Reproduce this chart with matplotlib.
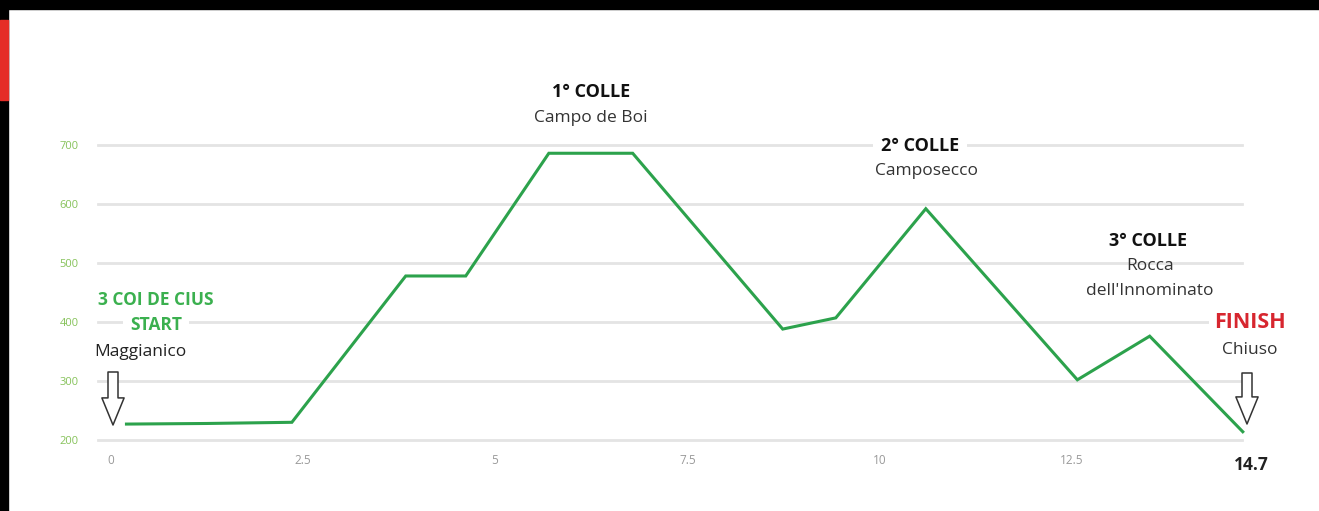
import matplotlib
matplotlib.use("Agg")
import matplotlib.pyplot as plt
from matplotlib.patches import Rectangle, FancyArrowPatch

# ---- data (km, elevation m) ----
dist_km = [0.21, 1.25, 2.36, 3.84, 4.62, 5.70, 6.79, 8.74, 9.43, 10.60, 12.57, 13.51, 14.72]
elev_m = [227, 228, 230, 478, 478, 686, 686, 388, 407, 592, 302, 376, 214]
x_ticks = [0, 2.5, 5, 7.5, 10, 12.5]
x_tick_labels = ["0", "2.5", "5", "7.5", "10", "12.5"]
y_ticks = [200, 300, 400, 500, 600, 700]
y_tick_labels = ["200", "300", "400", "500", "600", "700"]
end_km_label = "14.7"

W, H = 1319, 511
fig = plt.figure(figsize=(W / 100, H / 100), dpi=100)
fig.patch.set_facecolor("white")
plt.rcParams['font.family'] = ['Open Sans', 'DejaVu Sans']

# decorative frame (screenshot borders)
fig.patches.append(Rectangle((0, 1 - 9 / H), 1, 9 / H, transform=fig.transFigure, color="black", zorder=0))
fig.patches.append(Rectangle((0, 0), 8 / W, 1, transform=fig.transFigure, color="black", zorder=0))
fig.patches.append(Rectangle((0, 1 - 100 / H), 8 / W, 80 / H, transform=fig.transFigure, color="#e52d27", zorder=1))

ax = fig.add_axes([98 / W, 1 - 440 / H, (1242 - 98) / W, (440 - 145) / H])
ax.set_xlim(-0.16, 14.71)
ax.set_ylim(200, 700)
for s in ax.spines.values():
    s.set_visible(False)
ax.set_yticks(y_ticks)
ax.set_yticklabels(y_tick_labels)
ax.set_xticks(x_ticks)
ax.set_xticklabels(x_tick_labels)
ax.tick_params(axis="y", length=0, pad=14, labelsize=8, labelcolor="#86c25a")
ax.tick_params(axis="x", length=0, pad=10, labelsize=8.5, labelcolor="#9a9a9a")
ax.grid(axis="y", color="#e4e4e4", linewidth=2)
for gl in ax.get_ygridlines():
    gl.set_clip_on(False)
ax.set_axisbelow(True)

ax.plot(dist_km, elev_m, color="#2ca24c", linewidth=2.2, solid_joinstyle="miter", clip_on=False, zorder=3)

box = dict(facecolor="white", edgecolor="none", pad=4)

def text_px(x, y, s, **kw):
    kw.setdefault("color", "#222222")
    kw.setdefault("fontsize", 12.5)
    fig.text(x / W, 1 - y / H, s, ha="center", va="center", **kw)

text_px(591, 92, "1° COLLE", fontweight="bold", fontsize=13, color="#111111", bbox=box)
text_px(591, 118, "Campo de Boi", color="#333333")
text_px(920, 146, "2° COLLE", fontweight="bold", fontsize=13, color="#111111", bbox=dict(facecolor="white", edgecolor="none", pad=6))
text_px(926, 171, "Camposecco", color="#333333")
text_px(1148, 241, "3° COLLE", fontweight="bold", fontsize=13, color="#111111")
text_px(1150, 266, "Rocca", color="#333333")
text_px(1150, 291, "dell'Innominato", color="#333333", bbox=box)
text_px(1250, 322, "FINISH", fontweight="bold", fontsize=15.5, color="#d7262f", bbox=box)
text_px(1250, 350, "Chiuso", color="#333333")
text_px(156, 300, "3 COI DE CIUS", fontweight="bold", fontsize=12.5, color="#3bb04f", bbox=box)
text_px(156, 325, "START", fontweight="bold", fontsize=12.5, color="#3bb04f", bbox=dict(facecolor="white", edgecolor="none", pad=5))
text_px(140, 352, "Maggianico", color="#222222")
text_px(1251, 465, end_km_label, fontweight="bold", fontsize=12.5, color="#222222")

# outline down arrows
arrow_style = "simple,head_length=1.95,head_width=1.6,tail_width=0.72"
for (xp, ytop, ytip) in [(113, 372, 425), (1247, 373, 424)]:
    fig.add_artist(FancyArrowPatch(
        posA=(xp / W, 1 - ytop / H), posB=(xp / W, 1 - ytip / H),
        transform=fig.transFigure, arrowstyle=arrow_style, mutation_scale=10,
        facecolor="white", edgecolor="#333333", linewidth=1.1,
        shrinkA=0, shrinkB=0, zorder=5))

fig.savefig("out.png", dpi=100)
